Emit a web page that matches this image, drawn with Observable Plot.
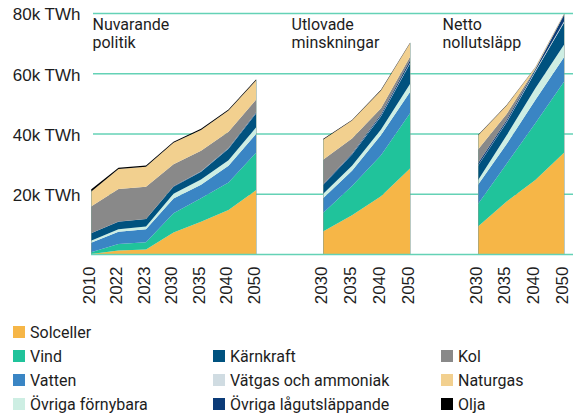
<!DOCTYPE html>
<html>
<head>
<meta charset="utf-8">
<script src="https://cdn.jsdelivr.net/npm/d3@7"></script>
<script src="https://cdn.jsdelivr.net/npm/@observablehq/plot@0.6"></script>
<style>
  html, body { margin: 0; padding: 0; background: #fff; }
  #chart { width: 573px; }
  #legend { display: grid; grid-template-columns: 200px 228px auto; grid-auto-rows: 24px;
    padding: 8px 0 0 13px; font: 16px Roboto, sans-serif; color: #1d1d1d; }
  .item { display: flex; align-items: center; white-space: nowrap; }
  .sw { width: 12px; height: 12px; margin-right: 5px; flex: none; }
</style>
</head>
<body>
<div id="chart"></div>
<div id="legend"></div>
<script>
// ---------- data ----------
const panels = ["Nuvarande politik", "Utlovade minskningar", "Netto nollutsläpp"];
const panelTitleLines = [["Nuvarande", "politik"], ["Utlovade", "minskningar"], ["Netto", "nollutsläpp"]];
const yearsCurrent = ["2010", "2022", "2023", "2030", "2035", "2040", "2050"];
const yearsScenario = ["2030", "2035", "2040", "2050"];
const sources = ["Solceller", "Vind", "Vatten", "Övriga förnybara", "Kärnkraft",
  "Vätgas och ammoniak", "Övriga lågutsläppande", "Kol", "Naturgas", "Olja"];
const sourceColors = ["#f6b647", "#20c39b", "#3a85c4", "#cdeee3", "#00527f",
  "#d0dce2", "#0b3b78", "#898989", "#f2d08f", "#000000"];
const yTicks = [20000, 40000, 60000, 80000];

// TWh per source (rows in `sources` order), columns = years of the panel
const nuvarandePolitik = [
  [30, 1200, 1500, 7100, 10700, 14600, 21200],
  [520, 2100, 2400, 6400, 7800, 9100, 12400],
  [3150, 4100, 4300, 4900, 4500, 5600, 6200],
  [700, 800, 900, 1600, 1700, 1800, 2200],
  [2500, 2500, 2500, 2300, 2600, 3800, 4600],
  [0, 0, 0, 50, 50, 100, 100],
  [0, 50, 50, 100, 150, 200, 300],
  [8900, 10850, 10650, 7350, 6800, 5400, 4200],
  [4900, 6600, 6700, 7100, 6900, 7000, 6400],
  [700, 400, 400, 400, 400, 400, 300]
];
const utlovadeMinskningar = [
  [7500, 12900, 19200, 28400],
  [6100, 9700, 13600, 18300],
  [4900, 5000, 6700, 7100],
  [1400, 1700, 1800, 2600],
  [2900, 3700, 4400, 6800],
  [50, 100, 200, 300],
  [200, 300, 500, 800],
  [8250, 4900, 2000, 1200],
  [6600, 6000, 5900, 4500],
  [300, 200, 200, 100]
];
const nettoNollutslapp = [
  [9100, 17400, 24600, 33600],
  [7500, 12600, 18800, 23600],
  [6400, 6500, 7700, 8100],
  [1500, 2900, 3900, 4200],
  [4800, 4300, 5500, 7300],
  [100, 200, 300, 400],
  [700, 600, 500, 2100],
  [4600, 2000, 200, 100],
  [4600, 2800, 400, 200],
  [200, 200, 100, 100]
];

// legend layout (rows x 3 columns)
const legendRows = [
  ["Solceller", null, null],
  ["Vind", "Kärnkraft", "Kol"],
  ["Vatten", "Vätgas och ammoniak", "Naturgas"],
  ["Övriga förnybara", "Övriga lågutsläppande", "Olja"]
];

// ---------- layout (pixel placement of each panel) ----------
const panelLayout = [
  {start: 91, end: 256, titleX: 92},
  {start: 323, end: 410, titleX: 291},
  {start: 478, end: 564, titleX: 442}
];
const panelValues = [nuvarandePolitik, utlovadeMinskningar, nettoNollutslapp];
const panelYears = [yearsCurrent, yearsScenario, yearsScenario];

const rows = [];
const ticks = [];
const edges = [];
panels.forEach((p, pi) => {
  const yrs = panelYears[pi], L = panelLayout[pi], vals = panelValues[pi];
  const step = (L.end - L.start) / (yrs.length - 1);
  yrs.forEach((yr, i) => ticks.push({x: L.start + i * step, year: yr}));
  sources.forEach((s, si) => {
    yrs.forEach((yr, i) => rows.push({panel: p, source: s, year: yr, x: L.start + i * step, value: vals[si][i]}));
  });
  [0, yrs.length - 1].forEach(i => {
    edges.push({x: L.start + i * step, total: d3.sum(vals, r => r[i])});
  });
});
const titles = [];
panelTitleLines.forEach((lines, pi) => lines.forEach((t, li) =>
  titles.push({x: panelLayout[pi].titleX, line: li, text: t})));

const teal = "#64d2b6";
const chart = Plot.plot({
  width: 573,
  height: 312,
  marginTop: 13,
  marginBottom: 58,
  marginLeft: 80,
  marginRight: 0,
  x: {type: "identity", axis: null},
  y: {domain: [0, 80000]},
  color: {domain: sources, range: sourceColors},
  style: {fontFamily: "Liberation Sans, Arial, sans-serif"},
  marks: [
    Plot.ruleY(yTicks, {x1: 93, x2: 573, stroke: teal, strokeWidth: 1.6}),
    Plot.axisY({ticks: yTicks, tickFormat: d => `${d / 1000}k TWh`, tickSize: 0, tickPadding: 0,
      fontSize: 17, fill: "#1d1d1d", dy: 1.5}),
    Plot.areaY(rows, {x: "x", y: "value", z: d => d.panel + "|" + d.source, fill: "source", curve: "linear"}),
    Plot.ruleX(edges, {x: "x", y1: 0, y2: "total", stroke: "#7f9c92", strokeOpacity: 0.55, strokeWidth: 1}),
    Plot.ruleY([0], {x1: 91, x2: 573, stroke: teal, strokeWidth: 1.6}),
    Plot.text(ticks, {x: "x", frameAnchor: "bottom", text: "year", rotate: -90, textAnchor: "end",
      dy: 12, dx: 3, fontSize: 17, fill: "#1d1d1d"}),
    Plot.text(titles.filter(d => d.line === 0), {x: "x", y: () => 80000, text: "text", textAnchor: "start",
      lineAnchor: "bottom", dy: 16.5, fontSize: 16, fontFamily: "Roboto, sans-serif", fill: "#1d1d1d"}),
    Plot.text(titles.filter(d => d.line === 1), {x: "x", y: () => 80000, text: "text", textAnchor: "start",
      lineAnchor: "bottom", dy: 34, fontSize: 16, fontFamily: "Roboto, sans-serif", fill: "#1d1d1d"})
  ]
});
document.getElementById("chart").append(chart);

const legend = document.getElementById("legend");
legendRows.forEach(r => r.forEach(name => {
  const cell = document.createElement("div");
  cell.className = "item";
  if (name) {
    const sw = document.createElement("span");
    sw.className = "sw";
    sw.style.background = sourceColors[sources.indexOf(name)];
    cell.append(sw, document.createTextNode(name));
  }
  legend.append(cell);
}));
</script>
</body>
</html>
